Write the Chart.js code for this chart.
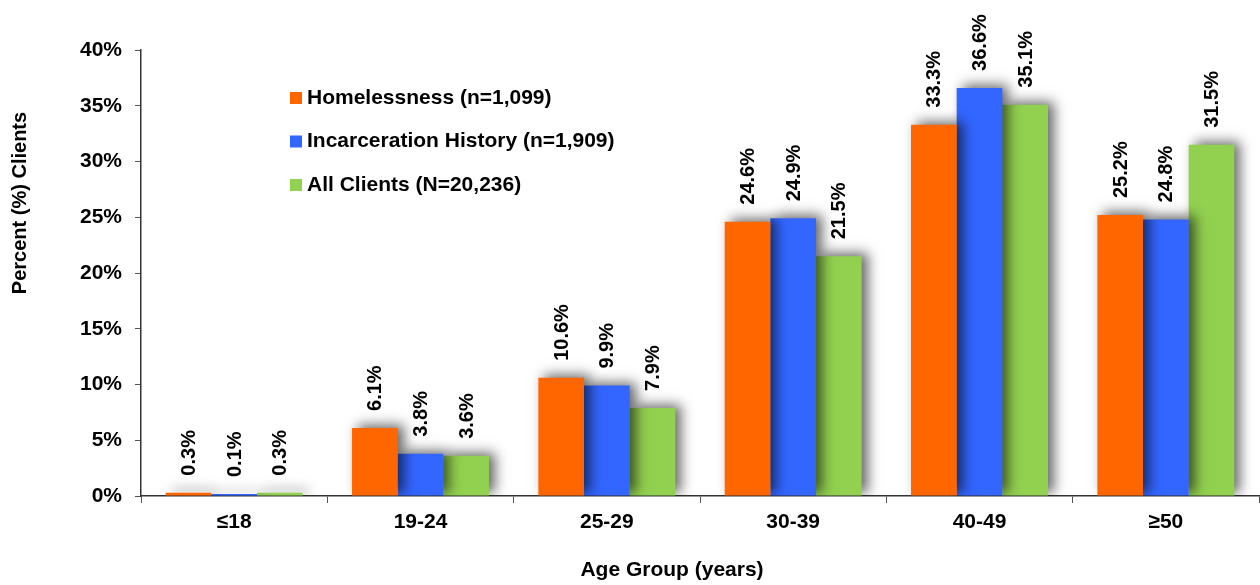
<!DOCTYPE html>
<html>
<head>
<meta charset="utf-8">
<script src="https://cdn.jsdelivr.net/npm/chart.js@4/dist/chart.umd.min.js"></script>
<style>
  body { margin: 0; background: #fff; }
  #wrap { width: 1260px; height: 585px; }
</style>
</head>
<body>
<div id="wrap"><canvas id="ageChart" width="1260" height="585"></canvas></div>
<script>
// =========================
// DATA
// =========================

var ageGroups = ["\u226418", "19-24", "25-29", "30-39", "40-49", "\u226550"];
var homelessValues = [0.3, 6.1, 10.6, 24.6, 33.3, 25.2];
var incarcerationValues = [0.1, 3.8, 9.9, 24.9, 36.6, 24.8];
var allClientValues = [0.3, 3.6, 7.9, 21.5, 35.1, 31.5];
var seriesNames = [
  "Homelessness (n=1,099)",
  "Incarceration History (n=1,909)",
  "All Clients (N=20,236)",
];
var seriesColors = ["#ff6600", "#3366ff", "#92d050"];
var yTicks = [0, 5, 10, 15, 20, 25, 30, 35, 40];

var FONT = "'Liberation Sans', Arial, sans-serif";

// =========================
// PLUGINS
// =========================

// shadow on the bars, then value labels on top
var barExtras = {
  id: "barExtras",
  beforeDatasetsDraw: function (chart) {
    var ctx = chart.ctx;
    ctx.save();
    ctx.shadowColor = "rgba(0,0,0,0.6)";
    ctx.shadowBlur = 12;
    ctx.shadowOffsetX = 6;
    ctx.shadowOffsetY = -3;
  },
  afterDatasetsDraw: function (chart) {
    var ctx = chart.ctx;
    ctx.restore();
    ctx.save();
    ctx.fillStyle = "#000";
    ctx.font = "bold 20px " + FONT;
    ctx.textAlign = "left";
    ctx.textBaseline = "middle";
    chart.data.datasets.forEach(function (ds, i) {
      var meta = chart.getDatasetMeta(i);
      meta.data.forEach(function (bar, j) {
        ctx.save();
        ctx.translate(bar.x + 1, bar.y - 17);
        ctx.rotate(-Math.PI / 2);
        ctx.fillText(ds.data[j].toFixed(1) + "%", 0, 0);
        ctx.restore();
      });
    });
    ctx.restore();
  },
};

// legend and axis titles placed like the original
var chartText = {
  id: "chartText",
  afterDraw: function (chart) {
    var ctx = chart.ctx;
    ctx.save();
    ctx.font = "bold 21px " + FONT;
    ctx.textBaseline = "middle";
    ctx.textAlign = "left";
    chart.data.datasets.forEach(function (ds, i) {
      var y = 98 + i * 43.5;
      ctx.fillStyle = ds.backgroundColor;
      ctx.fillRect(290, y - 6, 12, 12);
      ctx.fillStyle = "#000";
      ctx.fillText(ds.label, 307, y);
    });

    ctx.textAlign = "center";
    ctx.fillText("Age Group (years)", 672, 570);

    ctx.font = "bold 20px " + FONT;
    ctx.translate(20, 203);
    ctx.rotate(-Math.PI / 2);
    ctx.fillText("Percent (%) Clients", 0, 0);
    ctx.restore();
  },
};

// =========================
// AGE GROUP BAR CHART
// =========================

var ageCanvas = document.getElementById("ageChart");

var ageData = {
  labels: ageGroups,
  datasets: [
    { label: seriesNames[0], data: homelessValues, backgroundColor: seriesColors[0] },
    { label: seriesNames[1], data: incarcerationValues, backgroundColor: seriesColors[1] },
    { label: seriesNames[2], data: allClientValues, backgroundColor: seriesColors[2] },
  ],
};

var ageOptions = {
  responsive: false,
  animation: false,
  layout: {
    padding: { top: 50, right: 1, left: 0, bottom: 0 },
  },
  datasets: {
    bar: {
      categoryPercentage: 0.735,
      barPercentage: 1.0,
      minBarLength: 2,
    },
  },
  plugins: {
    legend: { display: false },
    tooltip: { enabled: false },
  },
  scales: {
    x: {
      grid: {
        offset: true,
        drawOnChartArea: false,
        drawTicks: true,
        tickLength: 7,
        color: "#555",
      },
      border: { color: "#333", width: 1.5 },
      ticks: {
        color: "#000",
        padding: 7,
        font: { family: FONT, size: 21, weight: "bold" },
      },
      afterFit: function (scale) {
        scale.height = 89;
      },
    },
    y: {
      min: 0,
      max: 40,
      afterBuildTicks: function (scale) {
        scale.ticks = yTicks.map(function (v) { return { value: v }; });
      },
      grid: {
        drawOnChartArea: false,
        drawTicks: true,
        tickLength: 6,
        color: "#555",
      },
      border: { color: "#333", width: 1.5 },
      ticks: {
        color: "#000",
        padding: 13,
        font: { family: FONT, size: 21, weight: "bold" },
        callback: function (v) { return v + "%"; },
      },
      afterFit: function (scale) {
        scale.width = 141;
      },
    },
  },
};

new Chart(ageCanvas, {
  type: "bar",
  data: ageData,
  options: ageOptions,
  plugins: [barExtras, chartText],
});
</script>
</body>
</html>
